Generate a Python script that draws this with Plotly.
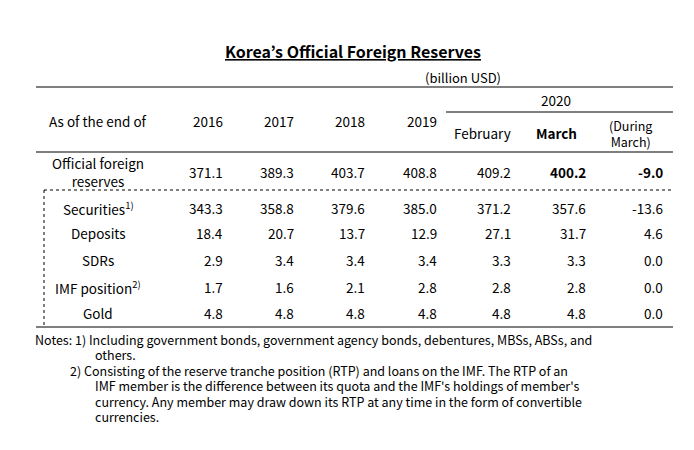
import plotly.graph_objects as go

# Data
columns = ["2016", "2017", "2018", "2019", "February", "March", "(During<br>March)"]
row_labels = ["Official foreign<br>reserves", "Securities<sup>1)</sup>", "Deposits", "SDRs",
              "IMF position<sup>2)</sup>", "Gold"]
v2016 = [371.1, 343.3, 18.4, 2.9, 1.7, 4.8]
v2017 = [389.3, 358.8, 20.7, 3.4, 1.6, 4.8]
v2018 = [403.7, 379.6, 13.7, 3.4, 2.1, 4.8]
v2019 = [408.8, 385.0, 12.9, 3.4, 2.8, 4.8]
v_feb = [409.2, 371.2, 27.1, 3.3, 2.8, 4.8]
v_mar = [400.2, 357.6, 31.7, 3.3, 2.8, 4.8]
v_chg = [-9.0, -13.6, 4.6, 0.0, 0.0, 0.0]
notes = [
    "Notes: 1) Including government bonds, government agency bonds, debentures, MBSs, ABSs, and",
    "others.",
    "2) Consisting of the reserve tranche position (RTP) and loans on the IMF. The RTP of an",
    "IMF member is the difference between its quota and the IMF's holdings of member's",
    "currency. Any member may draw down its RTP at any time in the form of convertible",
    "currencies.",
]

FONT = "Noto Sans CJK KR"
col_right = [217, 288, 359, 431, 505, 580, 657]
row_y = [157, 193, 218, 245, 272, 298]
series = [v2016, v2017, v2018, v2019, v_feb, v_mar, v_chg]

fig = go.Figure()
fig.add_trace(go.Scatter(x=[0, 694], y=[0, 450], mode="markers",
                         marker=dict(opacity=0), hoverinfo="skip", showlegend=False))

ann = []
ann.append(dict(x=345, y=36, text="<b><u>Korea’s Official Foreign Reserves</u></b>",
                font=dict(size=16)))
ann.append(dict(x=455, y=62, text="(billion USD)", font=dict(size=13)))
ann.append(dict(x=90, y=106, text="As of the end of"))
for i, c in enumerate(columns[:4]):
    ann.append(dict(x=col_right[i], y=106, text=c, xanchor="right"))
ann.append(dict(x=548, y=85, text="2020"))
ann.append(dict(x=474, y=118, text="February"))
ann.append(dict(x=548, y=118, text="<b>March</b>"))
ann.append(dict(x=622, y=118, text=columns[6], font=dict(size=12.5)))

for r, lab in enumerate(row_labels):
    ann.append(dict(x=90, y=row_y[r], text=lab))
    for c, s in enumerate(series):
        t = f"{s[r]:.1f}"
        if r == 0 and c >= 5:
            t = f"<b>{t}</b>"
        ann.append(dict(x=col_right[c], y=row_y[r], text=t, xanchor="right"))

note_x = [25, 85, 60, 85, 85, 85]
for i, n in enumerate(notes):
    ann.append(dict(x=note_x[i], y=324 + 15.5 * i, text=n, xanchor="left",
                    font=dict(size=12.5)))

for a in ann:
    a.setdefault("xanchor", "center")
    a.setdefault("yanchor", "middle")
    a.setdefault("showarrow", False)
    a.setdefault("xref", "x")
    a.setdefault("yref", "y")
    f = a.setdefault("font", {})
    f.setdefault("size", 13.5)
    f.setdefault("color", "black")
    f["family"] = FONT
fig.update_layout(annotations=ann)

line = dict(color="black", width=1.2)
dot = dict(color="black", width=1, dash="dot")
shapes = [
    dict(type="line", x0=28, x1=665, y0=72, y1=72, line=line),
    dict(type="line", x0=438, x1=665, y0=97, y1=97, line=line),
    dict(type="line", x0=28, x1=665, y0=137, y1=137, line=line),
    dict(type="line", x0=36, x1=665, y0=175, y1=175, line=dot),
    dict(type="line", x0=36, x1=36, y0=175, y1=312, line=dot),
    dict(type="line", x0=28, x1=665, y0=312, y1=312, line=line),
]
for s in shapes:
    s["xref"] = "x"
    s["yref"] = "y"
fig.update_layout(shapes=shapes)

fig.update_xaxes(range=[0, 694], visible=False)
fig.update_yaxes(range=[443, -7], visible=False)
fig.update_layout(width=694, height=450, margin=dict(l=0, r=0, t=0, b=0),
                  plot_bgcolor="white", paper_bgcolor="white")

fig.write_html("out.html")
